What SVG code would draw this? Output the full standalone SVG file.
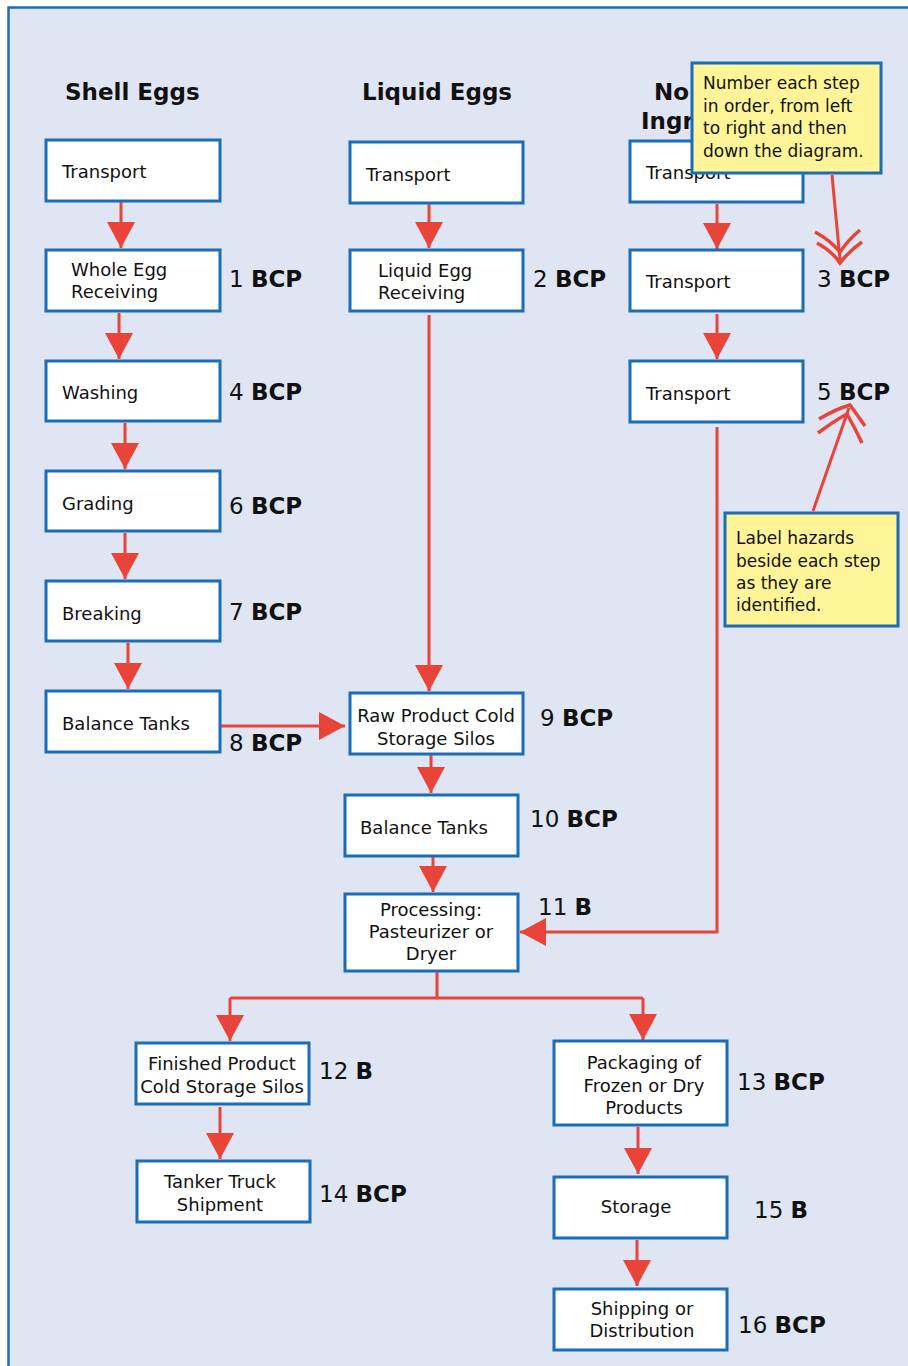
<svg xmlns="http://www.w3.org/2000/svg" width="908" height="1366" viewBox="0 0 908 1366">
<defs>
<style>
.box{fill:#ffffff;stroke:#1a6db6;stroke-width:3}
.note{fill:#fff598;stroke:#1a6db6;stroke-width:3}
.t{font-family:"DejaVu Sans",Verdana,sans-serif;font-size:18px;fill:#111}
.c{text-anchor:middle}
.n{font-family:"DejaVu Sans",Verdana,sans-serif;font-size:17px;fill:#111}
.h{font-family:"DejaVu Sans",Verdana,sans-serif;font-size:23px;font-weight:bold;fill:#111}
.lb{font-family:"DejaVu Sans",Verdana,sans-serif;font-size:23px;fill:#111}
.lb tspan{font-weight:bold}
.ln{fill:none;stroke:#e9443a;stroke-width:3;marker-end:url(#ah)}
.pl{fill:none;stroke:#e9443a;stroke-width:3}
.ch{fill:none;stroke:#e9443a;stroke-width:3.5;stroke-linejoin:miter}
</style>
<marker id="ah" viewBox="0 0 26 28" markerWidth="26" markerHeight="28" refX="26" refY="14" orient="auto" markerUnits="userSpaceOnUse">
<path d="M0,0 L26,14 L0,28 Z" fill="#e9443a"/>
</marker>
</defs>
<rect x="0" y="0" width="908" height="1366" fill="#ffffff"/>
<rect x="8.5" y="7.5" width="920" height="1380" fill="#dfe5f3" stroke="#1a6db6" stroke-width="2.5"/>

<g id="headers">
<text class="h" x="65" y="100">Shell Eggs</text>
<text class="h" x="362" y="100">Liquid Eggs</text>
<text class="h" x="654" y="100">No</text>
<text class="h" x="641" y="129">Ingr</text>
</g>

<g id="connectors">
<line class="ln" x1="121" y1="202" x2="121" y2="248"/>
<line class="ln" x1="119" y1="313" x2="119" y2="359"/>
<line class="ln" x1="125" y1="423" x2="125" y2="469"/>
<line class="ln" x1="125" y1="533" x2="125" y2="579"/>
<line class="ln" x1="128" y1="643" x2="128" y2="689"/>
<line class="ln" x1="221" y1="726" x2="345" y2="726"/>
<line class="ln" x1="429" y1="204" x2="429" y2="248"/>
<line class="ln" x1="429" y1="315" x2="429" y2="691"/>
<line class="ln" x1="431" y1="755" x2="431" y2="793"/>
<line class="ln" x1="433" y1="857" x2="433" y2="892"/>
<line class="ln" x1="717" y1="204" x2="717" y2="249"/>
<line class="ln" x1="717" y1="314" x2="717" y2="359"/>
<polyline class="ln" points="717,427 717,932 520,932"/>
<polyline class="pl" points="437,972 437,998 230,998"/>
<polyline class="pl" points="437,998 643,998"/>
<line class="ln" x1="230" y1="998" x2="230" y2="1041"/>
<line class="ln" x1="643" y1="998" x2="643" y2="1040"/>
<line class="ln" x1="220" y1="1107" x2="220" y2="1159"/>
<line class="ln" x1="638" y1="1127" x2="638" y2="1174"/>
<line class="ln" x1="637" y1="1240" x2="637" y2="1286"/>
</g>

<g id="n-se-transport"><rect class="box" x="46" y="140" width="174" height="61"/><text class="t" x="62" y="178">Transport</text></g>
<g id="n-whole-egg"><rect class="box" x="46" y="250" width="174" height="61"/><text class="t" x="71" y="276">Whole Egg</text><text class="t" x="71" y="298">Receiving</text></g>
<g id="n-washing"><rect class="box" x="46" y="361" width="174" height="60"/><text class="t" x="62" y="399">Washing</text></g>
<g id="n-grading"><rect class="box" x="46" y="471" width="174" height="60"/><text class="t" x="62" y="510">Grading</text></g>
<g id="n-breaking"><rect class="box" x="46" y="581" width="174" height="60"/><text class="t" x="62" y="620">Breaking</text></g>
<g id="n-se-balance"><rect class="box" x="46" y="691" width="174" height="61"/><text class="t" x="62" y="730">Balance Tanks</text></g>

<g id="n-le-transport"><rect class="box" x="350" y="142" width="173" height="61"/><text class="t" x="366" y="181">Transport</text></g>
<g id="n-liquid-egg"><rect class="box" x="350" y="250" width="173" height="61"/><text class="t" x="378" y="277">Liquid Egg</text><text class="t" x="378" y="299">Receiving</text></g>
<g id="n-raw-silos"><rect class="box" x="350" y="693" width="173" height="61"/><text class="t c" x="436" y="722">Raw Product Cold</text><text class="t c" x="436" y="745">Storage Silos</text></g>
<g id="n-le-balance"><rect class="box" x="345" y="795" width="173" height="61"/><text class="t" x="360" y="834">Balance Tanks</text></g>
<g id="n-processing"><rect class="box" x="345" y="894" width="173" height="77"/><text class="t c" x="431" y="916">Processing:</text><text class="t c" x="431" y="938">Pasteurizer or</text><text class="t c" x="431" y="960">Dryer</text></g>

<g id="n-ne-transport1"><rect class="box" x="630" y="141" width="173" height="61"/><text class="t" x="646" y="179">Transport</text></g>
<g id="n-ne-transport2"><rect class="box" x="630" y="250" width="173" height="61"/><text class="t" x="646" y="288">Transport</text></g>
<g id="n-ne-transport3"><rect class="box" x="630" y="361" width="173" height="61"/><text class="t" x="646" y="400">Transport</text></g>

<g id="n-finished"><rect class="box" x="136" y="1043" width="173" height="61"/><text class="t c" x="222" y="1070">Finished Product</text><text class="t c" x="222" y="1093">Cold Storage Silos</text></g>
<g id="n-tanker"><rect class="box" x="137" y="1161" width="173" height="61"/><text class="t c" x="220" y="1188">Tanker Truck</text><text class="t c" x="220" y="1211">Shipment</text></g>
<g id="n-packaging"><rect class="box" x="554" y="1041" width="173" height="84"/><text class="t c" x="644" y="1069">Packaging of</text><text class="t c" x="644" y="1092">Frozen or Dry</text><text class="t c" x="644" y="1114">Products</text></g>
<g id="n-storage"><rect class="box" x="554" y="1177" width="173" height="61"/><text class="t c" x="636" y="1213">Storage</text></g>
<g id="n-shipping"><rect class="box" x="554" y="1289" width="173" height="61"/><text class="t c" x="642" y="1315">Shipping or</text><text class="t c" x="642" y="1337">Distribution</text></g>

<g id="labels">
<text class="lb" x="229" y="287">1 <tspan>BCP</tspan></text>
<text class="lb" x="533" y="287">2 <tspan>BCP</tspan></text>
<text class="lb" x="817" y="287">3 <tspan>BCP</tspan></text>
<text class="lb" x="229" y="400">4 <tspan>BCP</tspan></text>
<text class="lb" x="817" y="400">5 <tspan>BCP</tspan></text>
<text class="lb" x="229" y="514">6 <tspan>BCP</tspan></text>
<text class="lb" x="229" y="620">7 <tspan>BCP</tspan></text>
<text class="lb" x="229" y="751">8 <tspan>BCP</tspan></text>
<text class="lb" x="540" y="726">9 <tspan>BCP</tspan></text>
<text class="lb" x="530" y="827">10 <tspan>BCP</tspan></text>
<text class="lb" x="538" y="915">11 <tspan>B</tspan></text>
<text class="lb" x="319" y="1079">12 <tspan>B</tspan></text>
<text class="lb" x="737" y="1090">13 <tspan>BCP</tspan></text>
<text class="lb" x="319" y="1202">14 <tspan>BCP</tspan></text>
<text class="lb" x="754" y="1218">15 <tspan>B</tspan></text>
<text class="lb" x="738" y="1333">16 <tspan>BCP</tspan></text>
</g>

<g id="callout-number">
<rect class="note" x="692" y="63" width="189" height="110"/>
<text class="n" x="703" y="89">Number each step</text>
<text class="n" x="703" y="112">in order, from left</text>
<text class="n" x="703" y="134">to right and then</text>
<text class="n" x="703" y="157">down the diagram.</text>
<line class="pl" x1="832" y1="175" x2="840" y2="260"/>
<path class="ch" d="M815,232 Q830,240 840,252 Q848,240 860,230 M817,243 Q832,251 840,263 Q850,250 862,242"/>
</g>

<g id="callout-label">
<rect class="note" x="725" y="513" width="173" height="113"/>
<text class="n" x="736" y="544">Label hazards</text>
<text class="n" x="736" y="567">beside each step</text>
<text class="n" x="736" y="589">as they are</text>
<text class="n" x="736" y="611">identified.</text>
<line class="pl" x1="813" y1="511" x2="849" y2="408"/>
<path class="ch" d="M819,419 Q836,409 850,405 Q858,416 865,426 M818,433 Q834,421 847,414 Q855,428 862,443"/>
</g>
</svg>
